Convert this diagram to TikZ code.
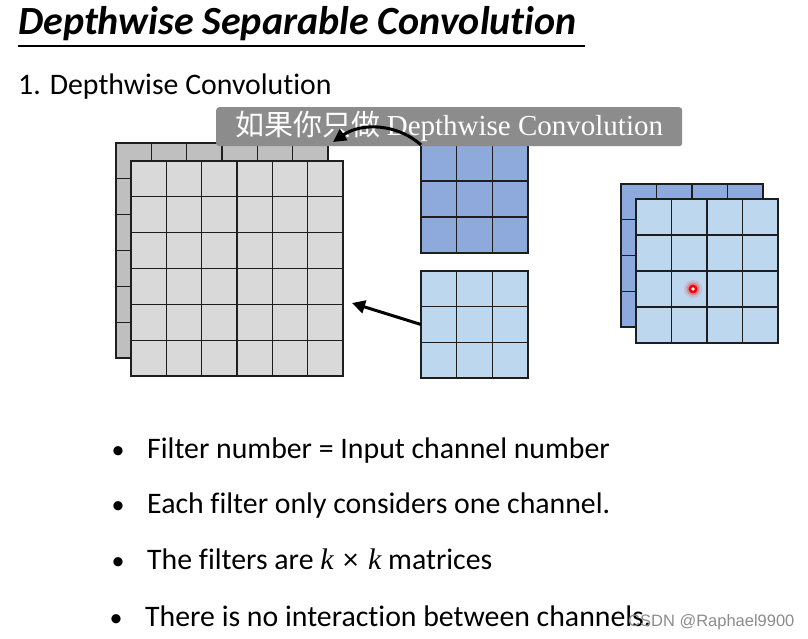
\documentclass[tikz,border=0pt]{standalone}
\usepackage{fontspec}
\setmainfont{Carlito}[Ligatures=NoCommon]
\newfontfamily\cjkfont{Noto Sans CJK SC}
\newfontfamily\serifo{Liberation Serif}
\newfontfamily\wmfont{Liberation Sans}
\usetikzlibrary{calc,arrows.meta}
\definecolor{greyback}{HTML}{BFBFBF}
\definecolor{greyfront}{HTML}{D9D9D9}
\definecolor{bluedark}{HTML}{8EA9DB}
\definecolor{bluelight}{HTML}{BDD7EE}
\definecolor{gline}{HTML}{1E1E1E}
\tikzset{
  gbox/.style={draw=gline, line width=1.1pt, inner sep=0pt, outer sep=0pt, anchor=north west},
  gline/.style={draw=gline, line width=1.1pt},
  bigarrow/.style={line width=3pt, -{Triangle[length=13pt,width=13pt]}},
  bul/.style={anchor=base, inner sep=0pt, font=\fontsize{26}{30}\selectfont},
  itemtext/.style={anchor=base west, inner sep=0pt, font=\fontsize{29.8}{34}\selectfont},
  labelbox/.style={fill=black!45, rounded corners=3pt, text=white, inner sep=0pt, anchor=north west, font=\fontsize{29}{32}\selectfont}
}
\newcommand\gridbox[7]{%
  \node[gbox, fill=#7, minimum width=#4pt, minimum height=#5pt] (#1) at (#2,#3) {};
  \pgfmathtruncatemacro\gbn{#6-1}
  \foreach \i in {1,...,\gbn}{
    \draw[gline] ($(#1.north west)!\i/#6!(#1.north east)$) -- ($(#1.south west)!\i/#6!(#1.south east)$);
    \draw[gline] ($(#1.north west)!\i/#6!(#1.south west)$) -- ($(#1.north east)!\i/#6!(#1.south east)$);
  }}
\begin{document}
\begin{tikzpicture}[x=1pt,y=-1pt]
\useasboundingbox (0,0) rectangle (808,639);
\fill[white] (0,0) rectangle (808,639);
% titles
\node[anchor=base west, inner sep=0pt, font=\fontsize{40}{44}\selectfont\bfseries\itshape] (title) at (18,35) {Depthwise Separable Convolution};
\draw[line width=1.2pt] (18,46) -- (585,46);
\node[anchor=base west, inner sep=0pt, font=\fontsize{29.8}{34}\selectfont] (sub) at (18,95) {1. Depthwise Convolution};
% input channels
\gridbox{inback}{116}{143}{212}{215}{6}{greyback}
\gridbox{infront}{131}{161}{212}{215}{6}{greyfront}
% filters
\gridbox{fdark}{421}{145}{107}{108}{3}{bluedark}
\gridbox{flight}{421}{271}{107}{107}{3}{bluelight}
% output
\gridbox{outback}{621}{184}{142}{143}{4}{bluedark}
\gridbox{outfront}{636}{199}{142}{144}{4}{bluelight}
% red dot
\coordinate (dot) at (693,289);
\fill[red, opacity=0.12] (dot) circle (9pt);
\fill[red, opacity=0.25] (dot) circle (6.5pt);
\fill[red] (dot) circle (4.5pt);
\fill[white] (dot) circle (1.8pt);
% label box
\node[labelbox, minimum width=466pt, minimum height=39pt] (lbl) at (216,107) {{\cjkfont 如果你只做} {\serifo Depthwise Convolution}};
% arrows
\coordinate (t1) at (333,142);
\coordinate (t2) at (352,303);
\draw[bigarrow] (fdark.north west) .. controls (398,124) and (362,122) .. (t1);
\draw[bigarrow] (flight.west) -- (t2);
% bullets
\node[bul] (b1) at (118,458) {•};
\node[itemtext] (i1) at (147,458) {Filter number = Input channel number};
\node[bul] (b2) at (118,513) {•};
\node[itemtext] (i2) at (147,513) {Each filter only considers one channel.};
\node[bul] (b3) at (118,569) {•};
\node[itemtext] (i3) at (147,569) {The filters are {\serifo\itshape k}\,\,×\,\,{\serifo\itshape k} matrices};
\node[bul] (b4) at (116,626) {•};
\node[itemtext] (i4) at (145,626) {There is no interaction between channels.};
\node[anchor=base west, inner sep=0pt, text=black!45, font=\wmfont\fontsize{16.5}{18}\selectfont] (wm) at (628,626) {CSDN @Raphael9900};
\end{tikzpicture}
\end{document}
